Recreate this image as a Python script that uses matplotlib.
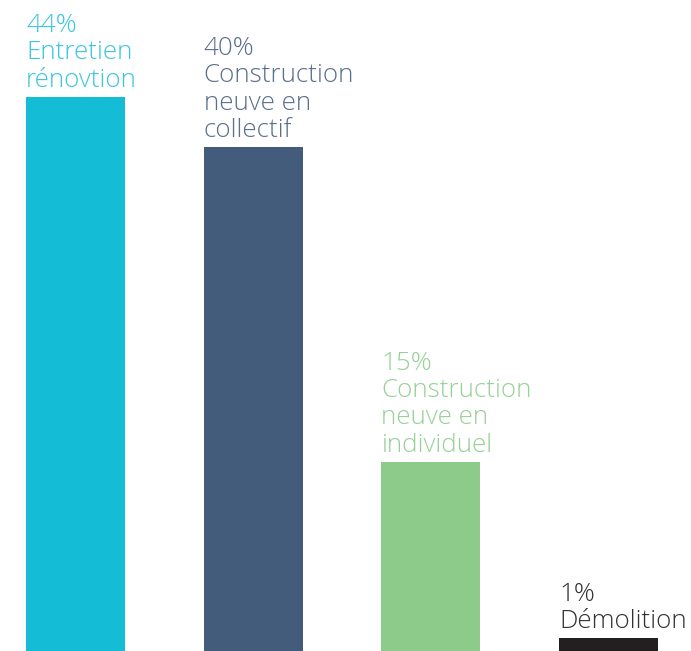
import matplotlib
matplotlib.use("Agg")
import matplotlib.pyplot as plt

# parts of the total, in percent
labels = ["Entretien\nrénovtion", "Construction\nneuve en\ncollectif",
          "Construction\nneuve en\nindividuel", "Démolition"]
values = [44, 40, 15, 1]
bar_colors = ["#14bdd5", "#445c7c", "#8dcb8a", "#231f20"]
text_colors = ["#3cc6db", "#5b6f8d", "#98d197", "#333333"]

fig = plt.figure(figsize=(6.91, 6.51), dpi=100)
ax = fig.add_axes([0, 0, 1, 1])

x = range(len(values))
ax.bar(x, values, width=0.557, color=bar_colors, align="center")

for i, (v, lab) in enumerate(zip(values, labels)):
    ax.annotate(f"{v}%\n{lab}", xy=(i - 0.557 / 2, v), xytext=(0, 3),
                textcoords="offset points", ha="left", va="bottom",
                fontsize=18.7, color=text_colors[i], family="Open Sans",
                fontweight="light", linespacing=1.13)

ax.set_xlim(-0.425, 3.464)
ax.set_ylim(0, 51.7)
ax.axis("off")

fig.savefig("out.png", dpi=100)
